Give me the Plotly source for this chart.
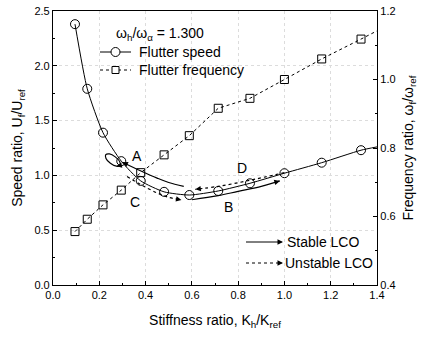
import plotly.graph_objects as go

# ---------------- data ----------------
stiff = [0.095, 0.148, 0.216, 0.295, 0.379, 0.48, 0.589, 0.714, 0.851, 1.0, 1.161, 1.331, 1.4]
speed = [2.38, 1.79, 1.39, 1.13, 0.95, 0.85, 0.821, 0.858, 0.928, 1.02, 1.116, 1.23, 1.26]
freq = [0.556, 0.592, 0.634, 0.677, 0.728, 0.78, 0.836, 0.916, 0.945, 1.0, 1.06, 1.118, 1.142]
n_marked = 12  # last value is the line continuing to the frame edge

# LCO branches (ordered along the arrow direction)
A_x = [0.565, 0.50, 0.45, 0.38, 0.30]
A_y = [0.900, 0.935, 0.975, 1.04, 1.12]
B_x = [0.60, 0.714, 0.80, 0.90, 0.98]
B_y = [0.778, 0.815, 0.855, 0.90, 0.95]
C_x = [0.32, 0.38, 0.45, 0.50, 0.555]
C_y = [0.99, 0.915, 0.84, 0.80, 0.776]
D_x = [1.0, 0.85, 0.714, 0.615]
D_y = [1.025, 0.955, 0.90, 0.873]
loop_x = [0.290, 0.274, 0.248, 0.229, 0.228, 0.244, 0.269, 0.288, 0.290]
loop_y = [1.091, 1.084, 1.111, 1.155, 1.189, 1.196, 1.169, 1.126, 1.091]

branch_labels = ["A", "B", "C", "D"]
label_x = [0.362, 0.757, 0.354, 0.815]
label_y = [1.18, 0.714, 0.76, 1.065]

x_ticks = [0.0, 0.2, 0.4, 0.6, 0.8, 1.0, 1.2, 1.4]
FONT = "Arial, Liberation Sans, sans-serif"

W, H = 429, 339
L, R, T, B = 53, 377, 11, 285  # plot frame in window pixels

fig = go.Figure()

fig.add_trace(go.Scatter(x=stiff, y=speed, mode="lines", line=dict(color="black", width=1, shape="spline", smoothing=0.6), showlegend=False, yaxis="y"))
fig.add_trace(go.Scatter(x=stiff[:n_marked], y=speed[:n_marked], mode="markers",
                         marker=dict(symbol="circle-open", size=9, color="black", line=dict(width=1)), showlegend=False, yaxis="y"))
fig.add_trace(go.Scatter(x=stiff, y=freq, mode="lines", line=dict(color="black", width=1, dash="dot"), showlegend=False, yaxis="y2"))
fig.add_trace(go.Scatter(x=stiff[:n_marked], y=freq[:n_marked], mode="markers",
                         marker=dict(symbol="square-open", size=8, color="black", line=dict(width=1)), showlegend=False, yaxis="y2"))

for bx, by, dash in [(A_x, A_y, "solid"), (B_x, B_y, "solid"), (C_x, C_y, "dot"), (D_x, D_y, "dot"), (loop_x, loop_y, "solid")]:
    fig.add_trace(go.Scatter(x=bx, y=by, mode="lines", line=dict(color="black", width=1.2, dash=dash, shape="spline"), showlegend=False, yaxis="y"))

annotations = []
for bx, by in [(A_x, A_y), (B_x, B_y), (C_x, C_y), (D_x, D_y)]:
    ex, ey = bx[-1], by[-1]
    px, py = bx[-2], by[-2]
    annotations.append(dict(x=ex, y=ey, ax=ex + 0.25 * (px - ex), ay=ey + 0.25 * (py - ey), xref="x", yref="y", axref="x", ayref="y",
                            text="", showarrow=True, arrowhead=2, arrowsize=1.1, arrowwidth=1, arrowcolor="black"))
annotations.append(dict(x=loop_x[1], y=loop_y[1], ax=loop_x[0], ay=loop_y[0], xref="x", yref="y", axref="x", ayref="y",
                        text="", showarrow=True, arrowhead=2, arrowsize=1.1, arrowwidth=1, arrowcolor="black"))

for lab, lx, ly in zip(branch_labels, label_x, label_y):
    annotations.append(dict(x=lx, y=ly, xref="x", yref="y", text=lab, showarrow=False, font=dict(family=FONT, size=14, color="black")))

def px2x(p):
    return (p - L) / (R - L)
def px2y(p):
    return (B - p) / (B - T)

LEG = dict(family=FONT, size=14, color="black")
def label(px, py, text):
    annotations.append(dict(x=px2x(px), y=px2y(py), xref="paper", yref="paper", xanchor="left", yanchor="middle",
                            text=text, showarrow=False, font=LEG, borderpad=0))

label(115, 34, "ω<sub>h</sub>/ω<sub>α</sub> = 1.300")
label(138, 52, "Flutter speed")
label(138, 70, "Flutter frequency")
label(286, 242, "Stable LCO")
label(284, 263, "Unstable LCO")
for yy in (242, 263):
    annotations.append(dict(x=px2x(283), y=px2y(yy), xref="paper", yref="paper", ax=-6, ay=0,
                            text="", showarrow=True, arrowhead=2, arrowsize=1.1, arrowwidth=1, arrowcolor="black"))

shapes = [
    dict(type="line", xref="paper", yref="paper", x0=px2x(100), x1=px2x(131), y0=px2y(52), y1=px2y(52), line=dict(color="black", width=1)),
    dict(type="circle", xref="paper", yref="paper", x0=px2x(111), x1=px2x(120), y0=px2y(47.5), y1=px2y(56.5), line=dict(color="black", width=1), fillcolor="white"),
    dict(type="line", xref="paper", yref="paper", x0=px2x(100), x1=px2x(131), y0=px2y(70), y1=px2y(70), line=dict(color="black", width=1, dash="dot")),
    dict(type="rect", xref="paper", yref="paper", x0=px2x(112), x1=px2x(119), y0=px2y(66.5), y1=px2y(73.5), line=dict(color="black", width=1), fillcolor="white"),
    dict(type="line", xref="paper", yref="paper", x0=px2x(246), x1=px2x(280), y0=px2y(242), y1=px2y(242), line=dict(color="black", width=1)),
    dict(type="line", xref="paper", yref="paper", x0=px2x(246), x1=px2x(280), y0=px2y(263), y1=px2y(263), line=dict(color="black", width=1, dash="dot")),
]

tickfont = dict(family=FONT, size=11, color="black")
titlefont = dict(family=FONT, size=14, color="black")
common = dict(ticks="inside", ticklen=4, tickwidth=1, tickcolor="black", showline=True, linecolor="black", linewidth=1.2,
              zeroline=False, tickfont=tickfont, title_font=titlefont, automargin=False)

fig.update_layout(
    template="none",
    width=W, height=H,
    margin=dict(l=L, r=W - R, t=T, b=H - B, autoexpand=False),
    paper_bgcolor="white", plot_bgcolor="white",
    showlegend=False,
    xaxis=dict(range=[0, 1.4], tickvals=x_ticks, tickformat=".1f", mirror=True,
               showgrid=True, gridcolor="#dcdcdc", griddash="dot", gridwidth=1,
               minor=dict(dtick=0.1, ticks="inside", ticklen=2, tickcolor="black"),
               title=dict(text="Stiffness ratio, K<sub>h</sub>/K<sub>ref</sub>", standoff=14), **common),
    yaxis=dict(range=[0, 2.5], dtick=0.5, tickformat=".1f",
               showgrid=True, gridcolor="#dcdcdc", griddash="dot", gridwidth=1,
               minor=dict(dtick=0.25, ticks="inside", ticklen=2, tickcolor="black"),
               title=dict(text="Speed ratio, U<sub>f</sub>/U<sub>ref</sub>", standoff=8), **common),
    yaxis2=dict(range=[0.4, 1.2], dtick=0.2, tickformat=".1f", overlaying="y", side="right", showgrid=False,
                minor=dict(dtick=0.1, ticks="inside", ticklen=2, tickcolor="black"),
                title=dict(text="Frequency ratio, ω<sub>f</sub>/ω<sub>ref</sub>", standoff=8), **common),
    annotations=annotations,
    shapes=shapes,
)

fig.write_html("out.html", config={"displayModeBar": False},
               post_script="document.body.style.margin='0px';document.body.style.padding='0px';")
